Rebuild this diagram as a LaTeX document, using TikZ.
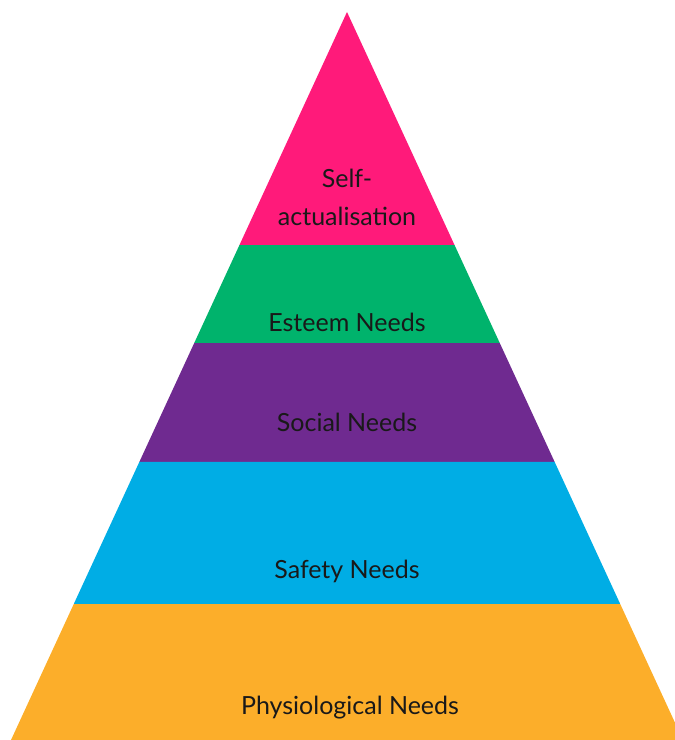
\documentclass[tikz,border=0pt]{standalone}
\usepackage{fontspec}
\setmainfont{Lato}
\usetikzlibrary{calc}

\definecolor{selfpink}{HTML}{FF1A7A}
\definecolor{esteemgreen}{HTML}{00B36C}
\definecolor{socialpurple}{HTML}{6F2A90}
\definecolor{safetyblue}{HTML}{00ADE5}
\definecolor{physioorange}{HTML}{FCAE2A}

\tikzstyle{need} = [text=black!90, font=\fontsize{25}{38}\selectfont, align=center, inner sep=0pt]

\begin{document}
\begin{tikzpicture}[x=1pt, y=-1pt]
\useasboundingbox (0,0) rectangle (675,740);
\clip (0,0) rectangle (675,740);
\coordinate (apex) at (347,12);
\coordinate (bl) at (11,740);
\coordinate (br) at (683,740);
\foreach \f/\n in {0.3201/a, 0.4547/b, 0.6181/c, 0.8132/d} {
    \coordinate (l\n) at ($(apex)!\f!(bl)$);
    \coordinate (r\n) at ($(apex)!\f!(br)$);
}

% layers, top to bottom
\fill[selfpink] (apex) -- (la) -- (ra) -- cycle;
\fill[esteemgreen] (la) -- (lb) -- (rb) -- (ra) -- cycle;
\fill[socialpurple] (lb) -- (lc) -- (rc) -- (rb) -- cycle;
\fill[safetyblue] (lc) -- (ld) -- (rd) -- (rc) -- cycle;
\fill[physioorange] (ld) -- (bl) -- (br) -- (rd) -- cycle;

% labels
\node[need] (self) at (347,197) {Self-\\actualisation};
\node[need] (esteem) at (347,322) {Esteem Needs};
\node[need] (social) at (347,422) {Social Needs};
\node[need] (safety) at (347,571) {Safety Needs};
\node[need] (physio) at (350,708) {Physiological Needs};
\end{tikzpicture}
\end{document}
